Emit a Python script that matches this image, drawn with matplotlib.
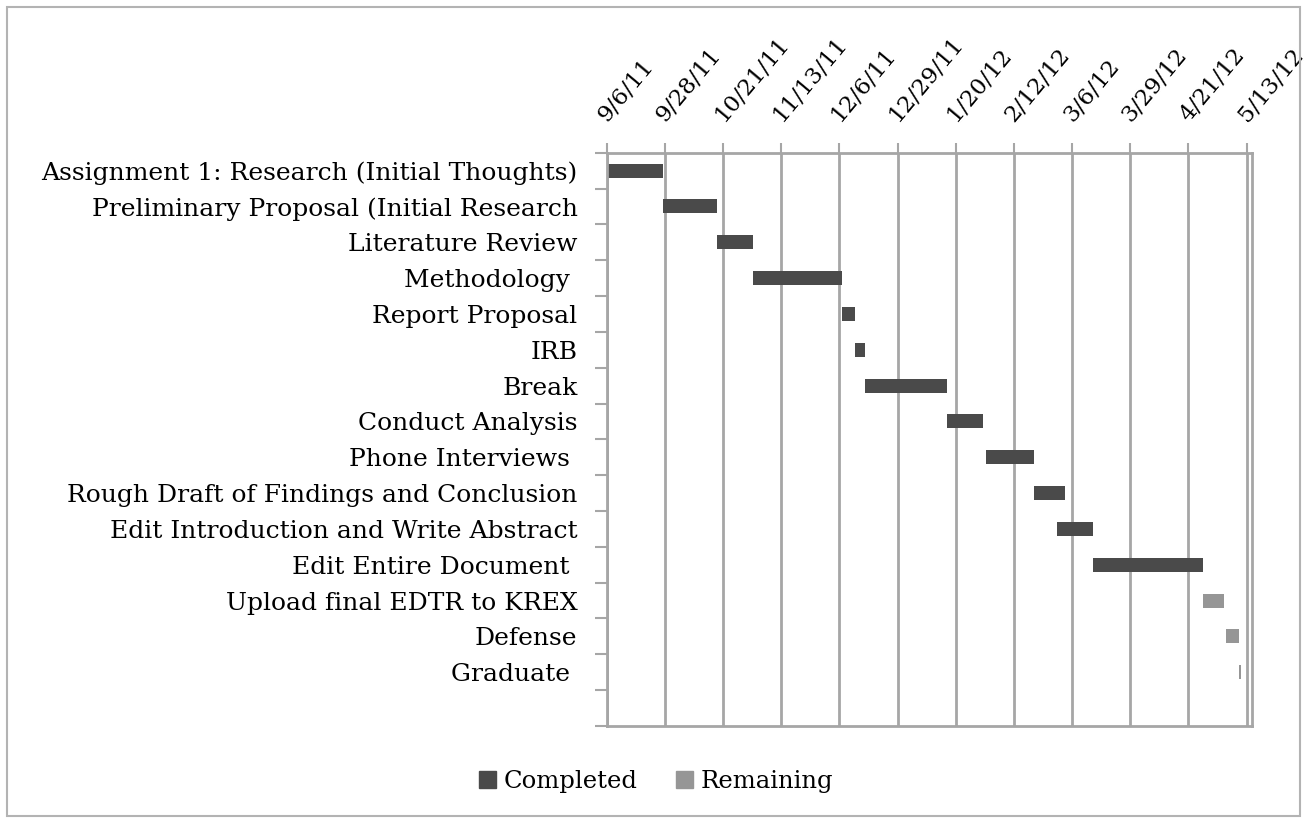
import numpy as np
import pandas as pd
import matplotlib.pyplot as plt
from matplotlib.patches import Patch, Rectangle

tasks = [
    "Assignment 1: Research (Initial Thoughts)",
    "Preliminary Proposal (Initial Research",
    "Literature Review",
    "Methodology ",
    "Report Proposal",
    "IRB",
    "Break",
    "Conduct Analysis",
    "Phone Interviews ",
    "Rough Draft of Findings and Conclusion",
    "Edit Introduction and Write Abstract",
    "Edit Entire Document ",
    "Upload final EDTR to KREX",
    "Defense",
    "Graduate ",
]
start_dates = [
    "2011-09-06", "2011-09-28", "2011-10-19", "2011-11-02", "2011-12-07",
    "2011-12-12", "2011-12-16", "2012-01-17", "2012-02-01", "2012-02-20",
    "2012-02-29", "2012-03-14", "2012-04-26", "2012-05-05", "2012-05-10",
]
completed_days = [22, 21, 14, 35, 5, 4, 32, 14, 19, 12, 14, 43, 0, 0, 0]
remaining_days = [0, 0, 0, 0, 0, 0, 0, 0, 0, 0, 0, 0, 8, 5, 1]
tick_labels = ["9/6/11", "9/28/11", "10/21/11", "11/13/11", "12/6/11", "12/29/11",
               "1/20/12", "2/12/12", "3/6/12", "3/29/12", "4/21/12", "5/13/12"]

axis_start = pd.Timestamp("2011-09-06")
axis_end = pd.Timestamp("2012-05-13")

df = pd.DataFrame({"task": tasks, "start": pd.to_datetime(start_dates),
                   "done": completed_days, "left": remaining_days})
df["offset"] = (df["start"] - axis_start).dt.days
span = (axis_end - axis_start).days

plt.rcParams['font.family'] = ['DejaVu Serif']
grey = '#a6a6a6'

fig = plt.figure(figsize=(13.07, 8.18), dpi=100)
ax = fig.add_axes([0.4642, 0.1125, 0.4938, 0.7008])

y = np.arange(len(df))
ax.barh(y, df["done"], left=df["offset"], height=0.39, color='#4a4a4a')
ax.barh(y, df["left"], left=df["offset"] + df["done"], height=0.39, color='#969696')

# date axis on top, like the excel gantt
ticks = np.linspace(0, span, len(tick_labels))
ax.set_xlim(0, span * 1.0086)
ax.set_xticks(ticks)
ax.set_xticklabels(tick_labels, rotation=50, ha='left', va='baseline',
                   rotation_mode='anchor', fontsize=16.5)
ax.xaxis.tick_top()
ax.tick_params(axis='x', length=7, width=1.5, color=grey, pad=15)
ax.grid(True, axis='x', color=grey, lw=2)
ax.set_axisbelow(True)

# one empty slot under the last task
ax.set_ylim(len(df) + 0.5, -0.5)
ax.set_yticks(y)
ax.set_yticklabels(df["task"], fontsize=18)
ax.set_yticks(np.arange(-0.5, len(df) + 1), minor=True)
ax.tick_params(axis='y', which='major', length=0, pad=21)
ax.tick_params(axis='y', which='minor', length=9, width=1.5, color=grey)

for s in ax.spines.values():
    s.set_color(grey)
    s.set_linewidth(2)

handles = [Patch(color='#4a4a4a', label='Completed'),
           Patch(color='#969696', label='Remaining')]
fig.legend(handles=handles, loc='center', bbox_to_anchor=(0.502, 0.045), ncol=2,
           frameon=False, fontsize=17.5, handlelength=0.7, handleheight=0.7,
           handletextpad=0.3, columnspacing=1.6)

fig.patches.append(Rectangle((7 / 1307, 2 / 818), 1293 / 1307, 809 / 818,
                             transform=fig.transFigure, fill=False,
                             edgecolor='#b3b3b3', lw=1.5))

plt.savefig("out.png", dpi=100)
